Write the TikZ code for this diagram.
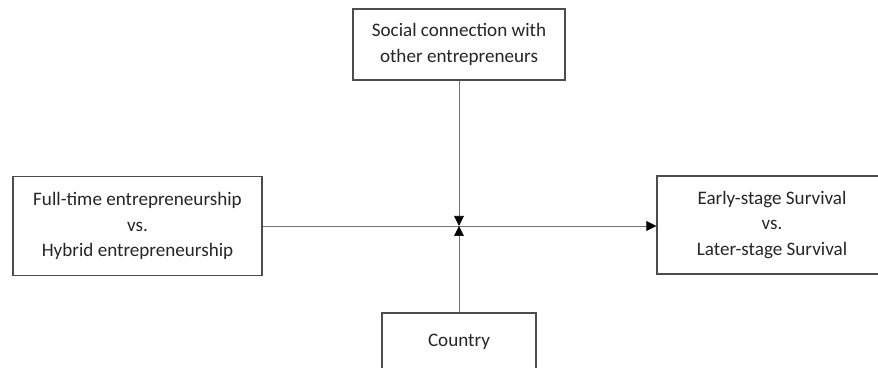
\documentclass[tikz,border=0pt]{standalone}
\usepackage{fontspec}
\setmainfont{Carlito}
\usetikzlibrary{arrows.meta}

\tikzset{
    factor/.style={draw=black!70, line width=0.9pt, rectangle, align=center, inner sep=0pt,
        text=black!85, font=\fontsize{16.3}{21.5}\selectfont},
    link/.style={draw=black!55, line width=0.6pt},
    tip/.style={-{Triangle[length=0.3cm, width=0.29cm, color=black]}}
}

\begin{document}
\begin{tikzpicture}
                    \clip (0,0) rectangle (26.34,-11.04);
                    % Nodes
                    \node[factor, minimum width=6.36cm, minimum height=2.13cm] (social) at (13.77,-1.335) {Social connection with\\other entrepreneurs};
                    \node[factor, minimum width=7.47cm, minimum height=2.97cm] (fulltime) at (4.125,-6.78) {Full-time entrepreneurship\\vs.\\Hybrid entrepreneurship};
                    \node[factor, minimum width=6.9cm, minimum height=2.94cm] (survival) at (23.16,-6.75) {Early-stage Survival\\vs.\\Later-stage Survival};
                    \node[factor, minimum width=4.62cm, minimum height=1.74cm] (country) at (13.77,-10.26) {Country};
                    \coordinate (meet) at (13.77,-6.78);
                    % Edges
                    \draw[link, tip] (fulltime.east) -- (survival.west |- fulltime.east);
                    \draw[link, tip] (social) -- (meet);
                    \draw[link, tip] (country) -- (meet);
                \end{tikzpicture}
\end{document}
